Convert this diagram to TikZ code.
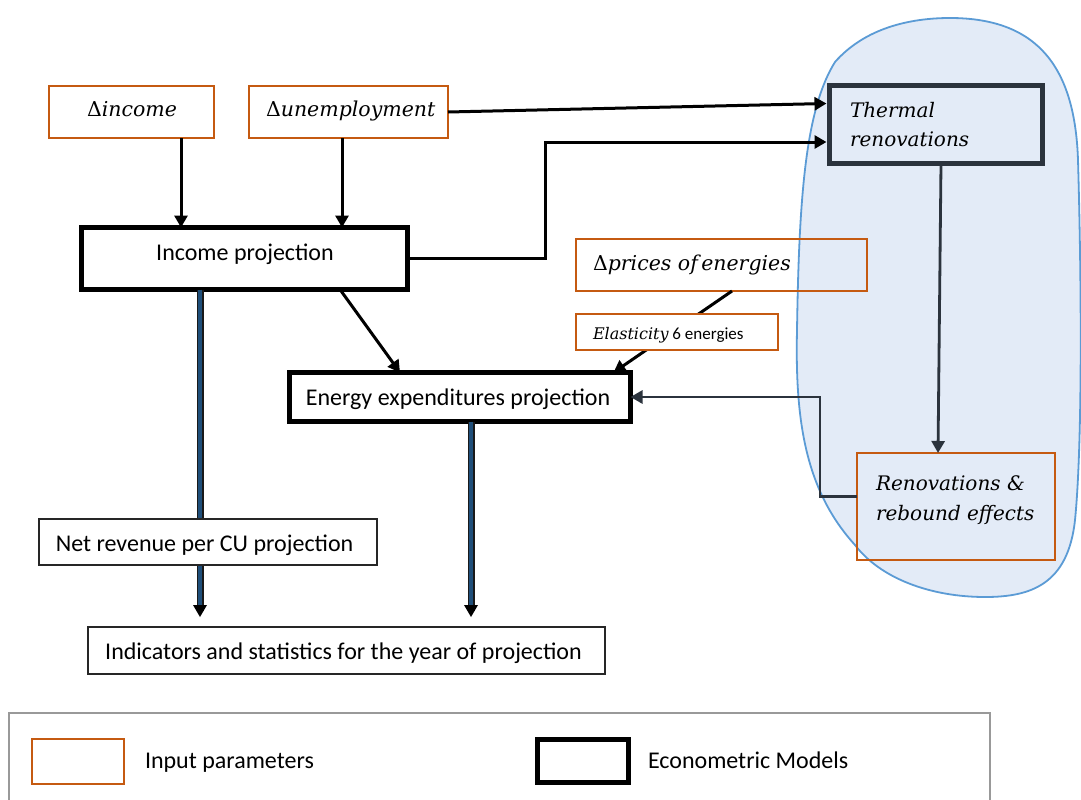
\documentclass[tikz,border=0pt]{standalone}
\usepackage{fontspec}
\setmainfont{Carlito}
\newfontfamily\serifit{DejaVu Serif}
\usetikzlibrary{arrows.meta,calc}
\definecolor{orng}{HTML}{C55A11}
\definecolor{blobline}{HTML}{5B9BD5}
\definecolor{blobfill}{HTML}{E3EBF7}
\definecolor{darkg}{HTML}{2B333D}
\definecolor{navy}{HTML}{1F4E79}
\newcommand{\Dlt}{{\upshape Δ}}
\begin{document}
\begin{tikzpicture}[x=1pt,y=-1pt,
  every node/.style={inner sep=0pt,outer sep=0pt},
  inp/.style={draw=orng,line width=1.3pt,minimum width=#1},
  model/.style={draw=black,line width=5.5pt},
  plainbox/.style={draw=black!85,line width=1.3pt},
  arr/.style={line width=3pt,-{Triangle[length=12pt,width=13pt]}},
  darr/.style={line width=2.8pt,draw=darkg,-{Triangle[length=12pt,width=13pt]}},
  fatshaft/.style={line width=7pt,draw=black!90},
  fatinner/.style={line width=3.4pt,draw=navy},
  main/.style={font=\fontsize{24}{29}\selectfont},
  seritl/.style={font=\fontsize{#1}{29.5}\selectfont\serifit\itshape},
  serlbl/.style={font=\fontsize{20}{29.5}\selectfont\serifit\itshape,align=left}
]
\useasboundingbox (0,0) rectangle (1081,800);
% blob
\path[draw=blobline,fill=blobfill,line width=1.8pt]
 (950,18) .. controls (1040,18) and (1075,70) .. (1078,160)
 .. controls (1082,300) and (1082,450) .. (1075,520)
 .. controls (1068,585) and (1030,597) .. (985,597)
 .. controls (930,597) and (880,578) .. (855,545)
 .. controls (805,490) and (795,420) .. (797,330)
 .. controls (799,200) and (805,110) .. (835,62)
 .. controls (865,28) and (910,18) .. (950,18) -- cycle;

% nodes
\node[inp=165pt,minimum height=52pt] (inc) at (131.5,112) {};
\node[seritl=20.5,anchor=base west] (inctxt) at (87,116) {\Dlt income};
\node[inp=199pt,minimum height=52pt] (unemp) at (348.5,112) {};
\node[seritl=20.5,anchor=base west] (unemptxt) at (266,116) {\Dlt unemployment};
\node[model,minimum width=326pt,minimum height=62pt] (incproj) at (244.5,258.5) {};
\node[main,anchor=base] (incprojtxt) at (245,260) {Income projection};
\node[model,draw=darkg,minimum width=213pt,minimum height=78pt] (thermal) at (936,124.5) {};
\node[serlbl,anchor=base west] (thermaltxt) at (850,146.5) {Thermal\\renovations};
\node[inp=291pt,minimum height=52pt] (prices) at (721.5,265) {};
\node[seritl=20.5,anchor=base west] (pricestxt) at (593,270) {\Dlt prices of\,energies};
\node[model,minimum width=341pt,minimum height=49pt] (energy) at (460,397) {};
\node[main,anchor=base] (energytxt) at (458,405) {Energy expenditures projection};
\node[inp=198pt,minimum height=107pt] (reno) at (956,506.5) {};
\node[serlbl,anchor=base west] (renotxt) at (876,520) {Renovations \&\\rebound effects};
\node[plainbox,minimum width=517pt,minimum height=47pt] (ind) at (346.5,650.5) {};
\node[main,anchor=base] (indtxt) at (343.5,659) {Indicators and statistics for the year of projection};

% connectors
\draw[arr] (inc.south -| 181,0) -- (incproj.north -| 181,0);
\draw[arr] (unemp.south -| 342,0) -- (incproj.north -| 342,0);
\draw[arr] (unemp.east) -- ($(thermal.west)+(-3,-21)$);
\draw[arr] (incproj.east) -- ++(138,0) |- ($(thermal.west)+(-3,17.5)$);
\draw[arr] ($(incproj.south)+(95.5,0)$) -- ($(energy.north)+(-60,0)$);
\draw[arr] ($(prices.south)+(10.5,0)$) -- ($(energy.north east)+(-17,0)$);
\node[inp=202pt,minimum height=36pt,fill=white] (elast) at (677,332) {};
\node[anchor=base west,font=\fontsize{17}{20}\selectfont] (elasttxt) at (593,339) {{\fontsize{16}{20}\selectfont\serifit\itshape Elasticity} 6 energies};
\draw[darr] ($(thermal.south)+(5,0)$) -- ($(reno.north)+(-18,0)$);
\draw[darr] ($(reno.west)+(0,-10)$) -- ++(-37,0) |- (energy.east);

% fat arrows
\coordinate (fa1) at ($(ind.north)+(-146.5,-10)$);
\coordinate (fa2) at ($(ind.north)+(124.5,-10)$);
\draw[fatshaft] ($(incproj.south)+(-44.5,0)$) -- ($(fa1)+(0,-6)$);
\draw[fatinner] ($(incproj.south)+(-44.5,0)$) -- ($(fa1)+(0,-8)$);
\draw[fatshaft] (energy.south -| fa2) -- ($(fa2)+(0,-6)$);
\draw[fatinner] (energy.south -| fa2) -- ($(fa2)+(0,-8)$);
\fill[black] (fa1) -- ++(-7,-12) -- ++(14,0) -- cycle;
\fill[black] (fa2) -- ++(-7,-12) -- ++(14,0) -- cycle;
% net revenue box drawn over the fat arrow
\node[plainbox,fill=white,minimum width=338pt,minimum height=46pt] (net) at (208,542) {};
\node[main,anchor=base] (nettxt) at (204.5,551) {Net revenue per CU projection};

% legend
\draw[draw=black!40,line width=1.5pt] (9,804) |- (990,713) -- (990,804);
\node[draw=orng,line width=2.8pt,minimum width=92pt,minimum height=45pt] (leg1) at (78,761.5) {};
\node[main,anchor=base west] (leg1t) at (145,768) {Input parameters};
\node[draw=black,line width=5.5pt,minimum width=91pt,minimum height=43pt] (leg2) at (583,761) {};
\node[main,anchor=base west] (leg2t) at (648,768) {Econometric Models};
\end{tikzpicture}
\end{document}
